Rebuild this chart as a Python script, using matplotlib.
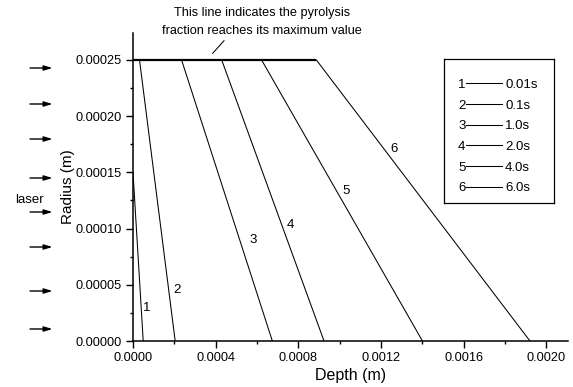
import matplotlib
matplotlib.use('Agg')
import matplotlib.pyplot as plt
from matplotlib.ticker import MultipleLocator, FormatStrFormatter
from matplotlib.lines import Line2D

plt.rcParams['font.family'] = 'Liberation Sans'

# pyrolysis front at each time: radius where it leaves the surface plateau,
# depth at that point and depth on the axis (radius = 0)
labels = ['1', '2', '3', '4', '5', '6']
times = ['0.01s', '0.1s', '1.0s', '2.0s', '4.0s', '6.0s']
depth_top = [0.0, 0.0000315, 0.000235, 0.000429, 0.000622, 0.000887]
radius_top = [0.00015, 0.00025, 0.00025, 0.00025, 0.00025, 0.00025]
depth_axis = [0.0000494, 0.000204, 0.000674, 0.000924, 0.00140, 0.00192]
plateau_radius = 0.00025

# where the curve numbers sit
label_pos = [(0.0000654, 0.0000294), (0.000211, 0.0000454), (0.000579, 0.0000899),
             (0.000763, 0.000103), (0.001029, 0.000133), (0.001262, 0.000171)]

W, H = 573, 387
fig = plt.figure(figsize=(W / 100, H / 100), dpi=100)
ax = fig.add_axes([133 / W, 1 - 341 / H, 435 / W, 308 / H])

for i in range(len(labels)):
    ax.plot([depth_top[i], depth_axis[i]], [radius_top[i], 0.0], color='k', lw=0.75)
    ax.text(label_pos[i][0], label_pos[i][1], labels[i], fontsize=9.5,
            ha='center', va='center')

# surface where the pyrolysis fraction is at its maximum
ax.plot([0.0, depth_top[-1]], [plateau_radius, plateau_radius], color='k', lw=1.6,
        solid_capstyle='butt')

ax.set_xlim(0, 0.002104)
ax.set_ylim(0, 0.000274)
ax.xaxis.set_major_locator(MultipleLocator(0.0004))
ax.xaxis.set_minor_locator(MultipleLocator(0.0002))
ax.yaxis.set_major_locator(MultipleLocator(0.00005))
ax.yaxis.set_minor_locator(MultipleLocator(0.000025))
ax.xaxis.set_major_formatter(FormatStrFormatter('%.4f'))
ax.yaxis.set_major_formatter(FormatStrFormatter('%.5f'))
ax.tick_params(which='major', direction='out', length=5, width=1, labelsize=9.2, pad=3)
ax.tick_params(which='minor', direction='out', length=2.5, width=1)
for s in ['top', 'right']:
    ax.spines[s].set_visible(False)
for s in ['left', 'bottom']:
    ax.spines[s].set_linewidth(1.1)

ax.set_xlabel('Depth (m)', fontsize=11.5)
ax.set_ylabel('Radius (m)', fontsize=11)
ax.xaxis.set_label_coords(0.5, -0.087)
ax.yaxis.set_label_coords(-0.133, 0.5)

# note above the plateau line
fig.text(262 / W, 1 - 13 / H, 'This line indicates the pyrolysis', fontsize=9.2,
         ha='center', va='center')
fig.text(262 / W, 1 - 31 / H, 'fraction reaches its maximum value', fontsize=9.2,
         ha='center', va='center')
fig.add_artist(Line2D([212.7 / W, 224 / W], [1 - 53.3 / H, 1 - 40.7 / H],
                      color='k', lw=0.75, transform=fig.transFigure))

# key box
lg = fig.add_axes([444 / W, 1 - 202.7 / H, 110 / W, 143.7 / H])
lg.set_xticks([])
lg.set_yticks([])
for s in lg.spines.values():
    s.set_linewidth(0.9)
lg.set_xlim(444, 554)
lg.set_ylim(202.7, 59)
row_y = [83.3, 104, 124.7, 145.3, 166, 186.7]
for lab, t, yy in zip(labels, times, row_y):
    lg.text(465.5, yy + 4.7, lab, fontsize=9.5, ha='right', va='baseline')
    lg.plot([465.5, 502], [yy, yy], color='k', lw=0.75)
    lg.text(505, yy + 4.7, t, fontsize=9.5, ha='left', va='baseline')

# incoming laser
arrow_y = [68, 104, 139, 178, 212, 247, 291, 329]
for yy in arrow_y:
    fig.add_artist(matplotlib.patches.FancyArrowPatch(
        (30, H - yy), (52.5, H - yy), transform=None,
        arrowstyle='-|>,head_length=5,head_width=1.5', color='k', lw=1.0,
        shrinkA=0, shrinkB=0))
fig.text(29.5 / W, 1 - 200 / H, 'laser', fontsize=9.5, ha='center', va='center')

fig.savefig('out.png', dpi=100)
